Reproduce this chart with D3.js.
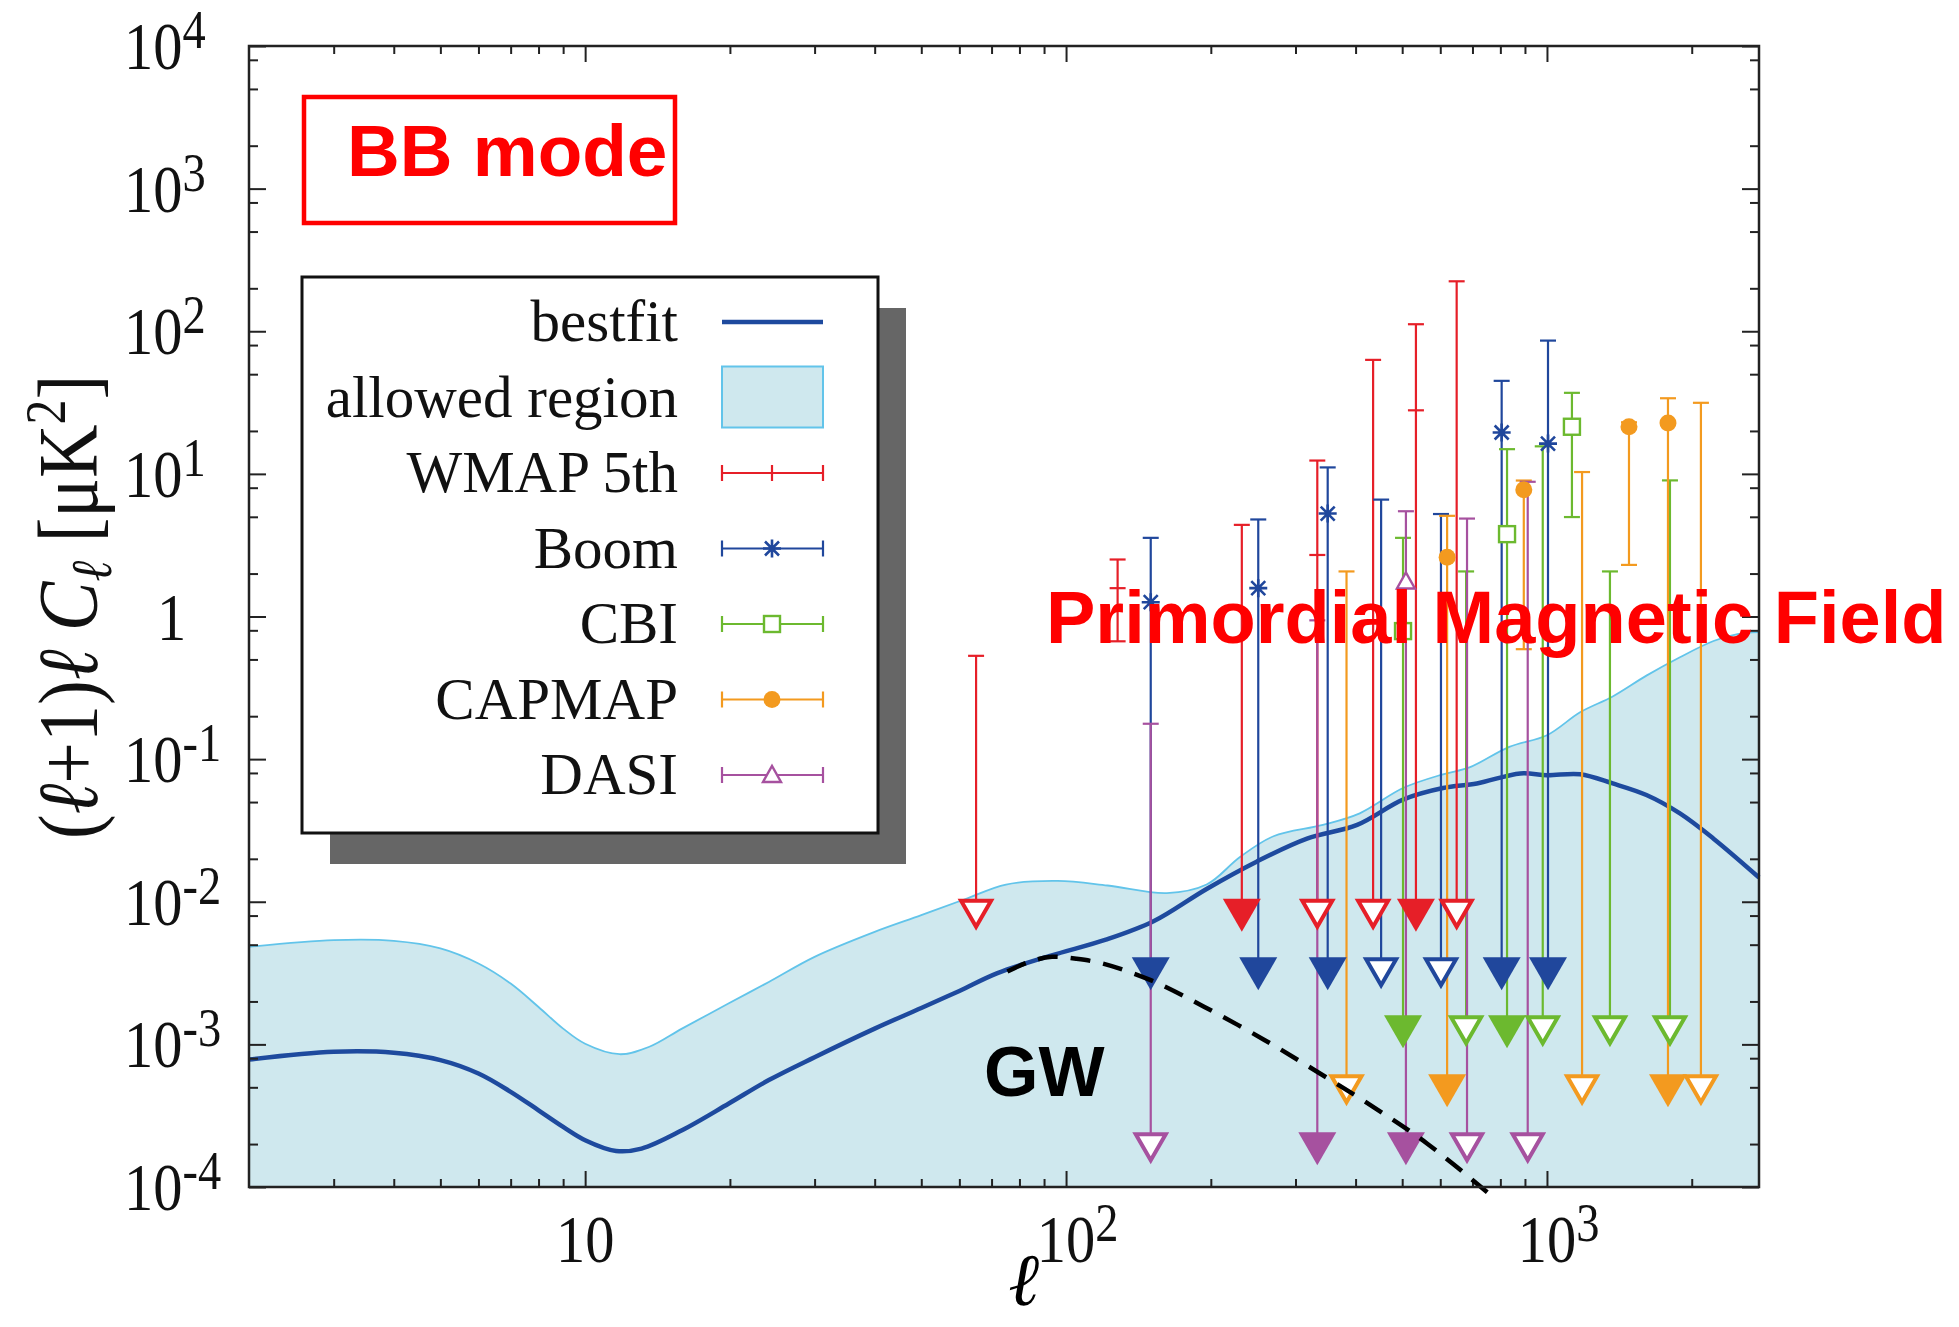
<!DOCTYPE html>
<html lang="en">
<head>
<meta charset="UTF-8">
<title>BB mode</title>
<script src="https://d3js.org/d3.v7.min.js"></script>
<style>
  body { margin: 0; background: #fff; }
  svg { display: block; }
  .serif { font-family: "Liberation Serif", "Times New Roman", serif; }
  .sans { font-family: "Liberation Sans", Arial, sans-serif; font-weight: bold; }
</style>
</head>
<body>
<div id="chart"></div>
<script>
// ---------- data ----------
// bestfit curve
var bestL = [2, 3, 4, 5, 6, 7, 8, 9, 10, 11.6, 13.1, 15.9, 19.9, 24.1, 30, 40, 50, 60, 72, 93, 121, 152, 196, 249, 317, 403, 502, 608, 715, 880, 1000, 1172, 1370, 1610, 1890, 2220, 2760];
var bestV = [7.83e-4, 8.87e-4, 8.73e-4, 7.76e-4, 6.25e-4, 4.65e-4, 3.45e-4, 2.64e-4, 2.13e-4, 1.79e-4, 1.86e-4, 2.5e-4, 3.85e-4, 5.62e-4, 8.13e-4, 1.29e-3, 1.8e-3, 2.37e-3, 3.16e-3, 4.19e-3, 5.42e-3, 7.3e-3, 0.0123, 0.0191, 0.0277, 0.0346, 0.052, 0.0627, 0.0675, 0.0794, 0.0771, 0.0783, 0.0675, 0.056, 0.0416, 0.0277, 0.0148];

// upper edge of the allowed region
var regionL = [2, 3, 4, 5, 6, 7, 8, 9, 10, 11.8, 13.6, 15.9, 19.9, 24.1, 30, 40, 50, 62, 75, 96, 122, 162, 196, 230, 270, 342, 408, 502, 608, 690, 835, 1000, 1172, 1370, 1610, 1890, 2220, 2490, 2760];
var regionV = [4.83e-3, 5.38e-3, 5.32e-3, 4.71e-3, 3.69e-3, 2.67e-3, 1.83e-3, 1.29e-3, 1.01e-3, 8.53e-4, 9.62e-4, 1.29e-3, 1.94e-3, 2.74e-3, 4.11e-3, 6.15e-3, 8.05e-3, 0.0105, 0.0132, 0.014, 0.013, 0.0115, 0.0132, 0.0206, 0.0288, 0.0346, 0.0417, 0.0627, 0.0783, 0.0875, 0.122, 0.147, 0.213, 0.275, 0.385, 0.518, 0.673, 0.752, 0.776];

// GW tensor contribution (dashed)
var gwL = [75.5, 84, 93.5, 105, 119, 150, 194, 259, 336, 435, 563, 760];
var gwV = [3.24e-3, 3.8e-3, 4.11e-3, 3.98e-3, 3.69e-3, 2.82e-3, 1.83e-3, 1.07e-3, 6.3e-4, 3.65e-4, 2.02e-4, 8.9e-5];

// experiments: hi = top of bar, mid = data point, lo = bottom cap (two-sided), arrow = upper limit marker
var wmapL = [65, 128, 232, 333, 435, 534, 649];
var wmapHi = [0.53, 2.51, 4.39, 12.4, 63, 112, 224];
var wmapMid = [null, 1.58, null, 2.7, null, 27.9, null];
var wmapLo = [null, 0.67, null, null, null, null, null];
var wmapArrow = ["open", null, "filled", "open", "open", "filled", "open"];

var boomL = [150, 251, 350, 452, 602, 805, 1005];
var boomHi = [3.56, 4.79, 11.1, 6.6, 5.23, 44.9, 86];
var boomMid = [1.26, 1.58, 5.27, null, null, 19.5, 16.3];
var boomLo = [null, null, null, null, null, null, null];
var boomArrow = ["filled", "filled", "filled", "open", "open", "filled", "filled"];

var cbiL = [502, 679, 826, 980, 1127, 1352, 1802];
var cbiHi = [3.56, 2.07, 14.9, 15.6, 37, 2.07, 9.0];
var cbiMid = [0.79, null, 3.78, null, 21.4, null, null];
var cbiLo = [null, null, null, null, 4.98, null, null];
var cbiArrow = ["filled", "open", "filled", "open", null, "open", "open"];

var capmapL = [383, 620, 895, 1183, 1481, 1785, 2090];
var capmapHi = [2.07, 5.08, 8.98, 10.3, 23, 33.9, 31.5];
var capmapMid = [null, 2.6, 7.74, null, 21.4, 22.7, null];
var capmapLo = [null, null, 0.59, null, 2.3, null, null];
var capmapArrow = ["open", "filled", null, "open", null, "filled", "open"];

var dasiL = [150, 333, 509, 682, 912];
var dasiHi = [0.177, 0.94, 5.47, 4.86, 8.8];
var dasiMid = [null, null, 1.76, null, null];
var dasiLo = [null, null, null, null, null];
var dasiArrow = ["open", "filled", "filled", "open", "open"];

// value at the top edge of the upper-limit triangles, per experiment
var arrowLevels = [0.0105, 0.00408, 0.0016, 0.000617, 0.000242];

var expNames = ["WMAP 5th", "Boom", "CBI", "CAPMAP", "DASI"];
var expColors = ["#e61f28", "#20479c", "#6cb92f", "#f39a1f", "#a6519f"];
var expMarkers = ["tick", "star", "square", "circle", "triangle"];

var legendLabels = ["bestfit", "allowed region"].concat(expNames);

var xMajor = [10, 100, 1000];
var xMinor = [3, 4, 5, 6, 7, 8, 9, 20, 30, 40, 50, 60, 70, 80, 90, 200, 300, 400, 500, 600, 700, 800, 900, 2000];
var yExp = [4, 3, 2, 1, 0, -1, -2, -3, -4];
var yMinorMant = [2, 5, 8];

// ---------- setup ----------
var width = 1959, height = 1327;
var plot = {left: 249, top: 46, right: 1759, bottom: 1187};
var pw = plot.right - plot.left, ph = plot.bottom - plot.top;

var svg = d3.select("#chart").append("svg")
  .attr("width", width)
  .attr("height", height);

var g = svg.append("g")
  .attr("transform", "translate(" + plot.left + "," + plot.top + ")");

var x = d3.scaleLog().domain([2, 2760]).range([0, pw]);
var y = d3.scaleLog().domain([1e-4, 1e4]).range([ph, 0]);

var bestData = bestL.map(function(l, i) { return {l: l, v: bestV[i]}; });
var regionData = regionL.map(function(l, i) { return {l: l, v: regionV[i]}; });
var gwData = gwL.map(function(l, i) { return {l: l, v: gwV[i]}; });

var smooth = d3.curveCatmullRom.alpha(0.5);

// allowed region
g.append("path")
  .datum(regionData)
  .attr("fill", "#cfe8ee")
  .attr("d", d3.area()
    .x(function(d) { return x(d.l); })
    .y0(ph)
    .y1(function(d) { return y(d.v); })
    .curve(smooth));

g.append("path")
  .datum(regionData)
  .attr("fill", "none")
  .attr("stroke", "#62c4ea")
  .attr("stroke-width", 1.8)
  .attr("d", d3.line()
    .x(function(d) { return x(d.l); })
    .y(function(d) { return y(d.v); })
    .curve(smooth));

// bestfit
g.append("path")
  .datum(bestData)
  .attr("fill", "none")
  .attr("stroke", "#1e4a9e")
  .attr("stroke-width", 4.5)
  .attr("d", d3.line()
    .x(function(d) { return x(d.l); })
    .y(function(d) { return y(d.v); })
    .curve(smooth));

// ---------- axes (ticks inward on all sides) ----------
function addAxis(axis, tx, ty) {
  var a = g.append("g")
    .attr("transform", "translate(" + tx + "," + ty + ")")
    .call(axis);
  a.select(".domain").remove();
  a.selectAll("line").attr("stroke", "#222").attr("stroke-width", 2);
}
var yMinor = [];
d3.range(-4, 4).forEach(function(e) {
  yMinorMant.forEach(function(m) { yMinor.push(m * Math.pow(10, e)); });
});
var yMajor = yExp.map(function(e) { return Math.pow(10, e); });

addAxis(d3.axisBottom(x).tickValues(xMajor).tickSize(-16).tickFormat(""), 0, ph);
addAxis(d3.axisBottom(x).tickValues(xMinor).tickSize(-8).tickFormat(""), 0, ph);
addAxis(d3.axisTop(x).tickValues(xMajor).tickSize(-16).tickFormat(""), 0, 0);
addAxis(d3.axisTop(x).tickValues(xMinor).tickSize(-8).tickFormat(""), 0, 0);
addAxis(d3.axisLeft(y).tickValues(yMajor).tickSize(-17).tickFormat(""), 0, 0);
addAxis(d3.axisLeft(y).tickValues(yMinor).tickSize(-9).tickFormat(""), 0, 0);
addAxis(d3.axisRight(y).tickValues(yMajor).tickSize(-17).tickFormat(""), pw, 0);
addAxis(d3.axisRight(y).tickValues(yMinor).tickSize(-9).tickFormat(""), pw, 0);

// ---------- experiments ----------
var experiments = [
  {L: wmapL, hi: wmapHi, mid: wmapMid, lo: wmapLo, arrow: wmapArrow},
  {L: boomL, hi: boomHi, mid: boomMid, lo: boomLo, arrow: boomArrow},
  {L: cbiL, hi: cbiHi, mid: cbiMid, lo: cbiLo, arrow: cbiArrow},
  {L: capmapL, hi: capmapHi, mid: capmapMid, lo: capmapLo, arrow: capmapArrow},
  {L: dasiL, hi: dasiHi, mid: dasiMid, lo: dasiLo, arrow: dasiArrow}
];
experiments.forEach(function(ex, k) {
  ex.color = expColors[k];
  ex.marker = expMarkers[k];
  ex.level = arrowLevels[k];
  ex.points = ex.L.map(function(l, i) {
    return {l: l, hi: ex.hi[i], mid: ex.mid[i], lo: ex.lo[i], arrow: ex.arrow[i]};
  });
});

var capW = 8, triW = 19, triH = 33;

// bars and caps first
experiments.forEach(function(ex) {
  var gb = g.append("g").attr("stroke", ex.color).attr("stroke-width", 2.2).attr("fill", "none");
  gb.selectAll(".bar").data(ex.points).enter().append("line")
    .attr("x1", function(d) { return x(d.l); })
    .attr("x2", function(d) { return x(d.l); })
    .attr("y1", function(d) { return y(d.hi); })
    .attr("y2", function(d) { return d.arrow ? y(ex.level) + 4 : y(d.lo); });
  gb.selectAll(".cap").data(ex.points).enter().append("line")
    .attr("x1", function(d) { return x(d.l) - capW; })
    .attr("x2", function(d) { return x(d.l) + capW; })
    .attr("y1", function(d) { return y(d.hi); })
    .attr("y2", function(d) { return y(d.hi); });
  gb.selectAll(".capLo").data(ex.points.filter(function(d) { return d.lo; })).enter().append("line")
    .attr("x1", function(d) { return x(d.l) - capW; })
    .attr("x2", function(d) { return x(d.l) + capW; })
    .attr("y1", function(d) { return y(d.lo); })
    .attr("y2", function(d) { return y(d.lo); });
});

function drawMarker(sel, type, color, cx, cy) {
  if (type === "tick") {
    sel.append("line").attr("x1", cx - 8).attr("x2", cx + 8).attr("y1", cy).attr("y2", cy)
      .attr("stroke", color).attr("stroke-width", 2.2);
  } else if (type === "star") {
    var p = "M" + (cx - 9) + "," + cy + "h18M" + (cx - 7) + "," + (cy - 7) + "l14,14M" + (cx - 7) + "," + (cy + 7) + "l14,-14M" + cx + "," + (cy - 9) + "v18";
    sel.append("path").attr("d", p).attr("stroke", color).attr("stroke-width", 2.6).attr("fill", "none");
  } else if (type === "square") {
    sel.append("rect").attr("x", cx - 8).attr("y", cy - 8).attr("width", 16).attr("height", 16)
      .attr("fill", "#fff").attr("stroke", color).attr("stroke-width", 2.4);
  } else if (type === "circle") {
    sel.append("circle").attr("cx", cx).attr("cy", cy).attr("r", 8.5).attr("fill", color);
  } else if (type === "triangle") {
    sel.append("path").attr("d", "M" + (cx - 9) + "," + (cy + 7) + "L" + (cx + 9) + "," + (cy + 7) + "L" + cx + "," + (cy - 9) + "Z")
      .attr("fill", "#fff").attr("stroke", color).attr("stroke-width", 2.4);
  }
}

// data points and upper-limit triangles
experiments.forEach(function(ex) {
  var gm = g.append("g");
  ex.points.forEach(function(d) {
    if (d.mid) drawMarker(gm, ex.marker, ex.color, x(d.l), y(d.mid));
    if (d.arrow) {
      var cx = x(d.l), top = y(ex.level);
      if (d.arrow === "filled") {
        gm.append("path")
          .attr("d", "M" + (cx - triW) + "," + top + "L" + (cx + triW) + "," + top + "L" + cx + "," + (top + triH) + "Z")
          .attr("fill", ex.color);
      } else {
        gm.append("path")
          .attr("d", "M" + (cx - triW + 4) + "," + (top + 2) + "L" + (cx + triW - 4) + "," + (top + 2) + "L" + cx + "," + (top + triH - 5) + "Z")
          .attr("fill", "#fff")
          .attr("stroke", ex.color)
          .attr("stroke-width", 4)
          .attr("stroke-linejoin", "miter");
      }
    }
  });
});

// GW dashed curve
g.append("path")
  .datum(gwData)
  .attr("fill", "none")
  .attr("stroke", "#000")
  .attr("stroke-width", 4.5)
  .attr("stroke-dasharray", "20,13")
  .attr("d", d3.line()
    .x(function(d) { return x(d.l); })
    .y(function(d) { return y(d.v); })
    .curve(smooth));

// frame
g.append("rect")
  .attr("width", pw).attr("height", ph)
  .attr("fill", "none").attr("stroke", "#222").attr("stroke-width", 2.5);

// ---------- tick labels ----------
yExp.forEach(function(e) {
  var ty = plot.top + y(Math.pow(10, e)) + 23;
  var t = svg.append("g")
    .attr("transform", "translate(" + (e === 0 ? 157 : 124) + "," + ty + ") scale(0.86,1)")
    .append("text").attr("class", "serif").attr("font-size", 68).attr("fill", "#111");
  if (e === 0) {
    t.text("1");
  } else {
    t.append("tspan").text("10");
    t.append("tspan").attr("font-size", 54).attr("dy", -21).text(String(e));
  }
});

xMajor.forEach(function(v) {
  var e = Math.round(Math.log10(v));
  var t = svg.append("g")
    .attr("transform", "translate(" + (plot.left + x(v)) + ",1262) scale(0.86,1)")
    .append("text").attr("class", "serif").attr("font-size", 68).attr("fill", "#111").attr("x", -34);
  t.append("tspan").text("10");
  if (e > 1) t.append("tspan").attr("font-size", 54).attr("dy", -21).text(String(e));
});

// axis titles
svg.append("text")
  .attr("class", "serif")
  .attr("font-size", 74)
  .attr("font-style", "italic")
  .attr("text-anchor", "middle")
  .attr("x", 1024).attr("y", 1305)
  .text("\u2113");

var yt = svg.append("g")
  .attr("transform", "translate(97,607) rotate(-90) scale(1,1.15)")
  .append("text")
  .attr("class", "serif")
  .attr("font-size", 74)
  .attr("text-anchor", "middle")
  .attr("fill", "#111");
yt.append("tspan").text("(");
yt.append("tspan").attr("font-style", "italic").text("\u2113");
yt.append("tspan").text("+1)");
yt.append("tspan").attr("font-style", "italic").text("\u2113 C");
yt.append("tspan").attr("font-style", "italic").attr("font-size", 50).attr("dy", 12).text("\u2113");
yt.append("tspan").attr("dy", -12).text(" [\u03bcK");
yt.append("tspan").attr("font-size", 50).attr("dy", -28).text("2");
yt.append("tspan").attr("dy", 28).text("]");

// ---------- legend ----------
var legend = svg.append("g");
legend.append("rect")
  .attr("x", 330).attr("y", 308).attr("width", 576).attr("height", 556)
  .attr("fill", "#666");
legend.append("rect")
  .attr("x", 302).attr("y", 277).attr("width", 576).attr("height", 556)
  .attr("fill", "#fff").attr("stroke", "#111").attr("stroke-width", 3);

var rowY = d3.scaleLinear().domain([0, legendLabels.length - 1]).range([322, 775]);
var sx0 = 722, sx1 = 823, sxm = 772;

legend.selectAll(".lab").data(legendLabels).enter().append("text")
  .attr("class", "serif")
  .attr("font-size", 59)
  .attr("text-anchor", "end")
  .attr("fill", "#111")
  .attr("x", 678)
  .attr("y", function(d, i) { return rowY(i) + 19; })
  .text(function(d) { return d; });

legend.append("line")
  .attr("x1", sx0).attr("x2", sx1).attr("y1", rowY(0)).attr("y2", rowY(0))
  .attr("stroke", "#1e4a9e").attr("stroke-width", 4.5);
legend.append("rect")
  .attr("x", sx0).attr("y", rowY(1) - 31).attr("width", sx1 - sx0).attr("height", 61)
  .attr("fill", "#cfe8ee").attr("stroke", "#62c4ea").attr("stroke-width", 2);

expNames.forEach(function(n, k) {
  var ry = rowY(k + 2), c = expColors[k];
  var lg = legend.append("g").attr("stroke", c).attr("stroke-width", 2.2);
  lg.append("line").attr("x1", sx0).attr("x2", sx1).attr("y1", ry).attr("y2", ry);
  lg.append("line").attr("x1", sx0).attr("x2", sx0).attr("y1", ry - 8).attr("y2", ry + 8);
  lg.append("line").attr("x1", sx1).attr("x2", sx1).attr("y1", ry - 8).attr("y2", ry + 8);
  if (expMarkers[k] === "tick") {
    lg.append("line").attr("x1", sxm).attr("x2", sxm).attr("y1", ry - 8).attr("y2", ry + 8);
  } else {
    drawMarker(legend, expMarkers[k], c, sxm, ry);
  }
});

// ---------- annotations ----------
svg.append("rect")
  .attr("x", 304).attr("y", 97).attr("width", 371).attr("height", 126)
  .attr("fill", "none").attr("stroke", "#ff0000").attr("stroke-width", 4.5);
svg.append("text")
  .attr("class", "sans").attr("font-size", 73).attr("fill", "#ff0000")
  .attr("x", 347).attr("y", 176)
  .text("BB mode");

svg.append("text")
  .attr("class", "sans").attr("font-size", 74).attr("fill", "#ff0000")
  .attr("x", 1046).attr("y", 643)
  .text("Primordial Magnetic Field");

svg.append("text")
  .attr("class", "sans").attr("font-size", 70).attr("fill", "#000")
  .attr("x", 984).attr("y", 1096)
  .text("GW");
</script>
</body>
</html>
